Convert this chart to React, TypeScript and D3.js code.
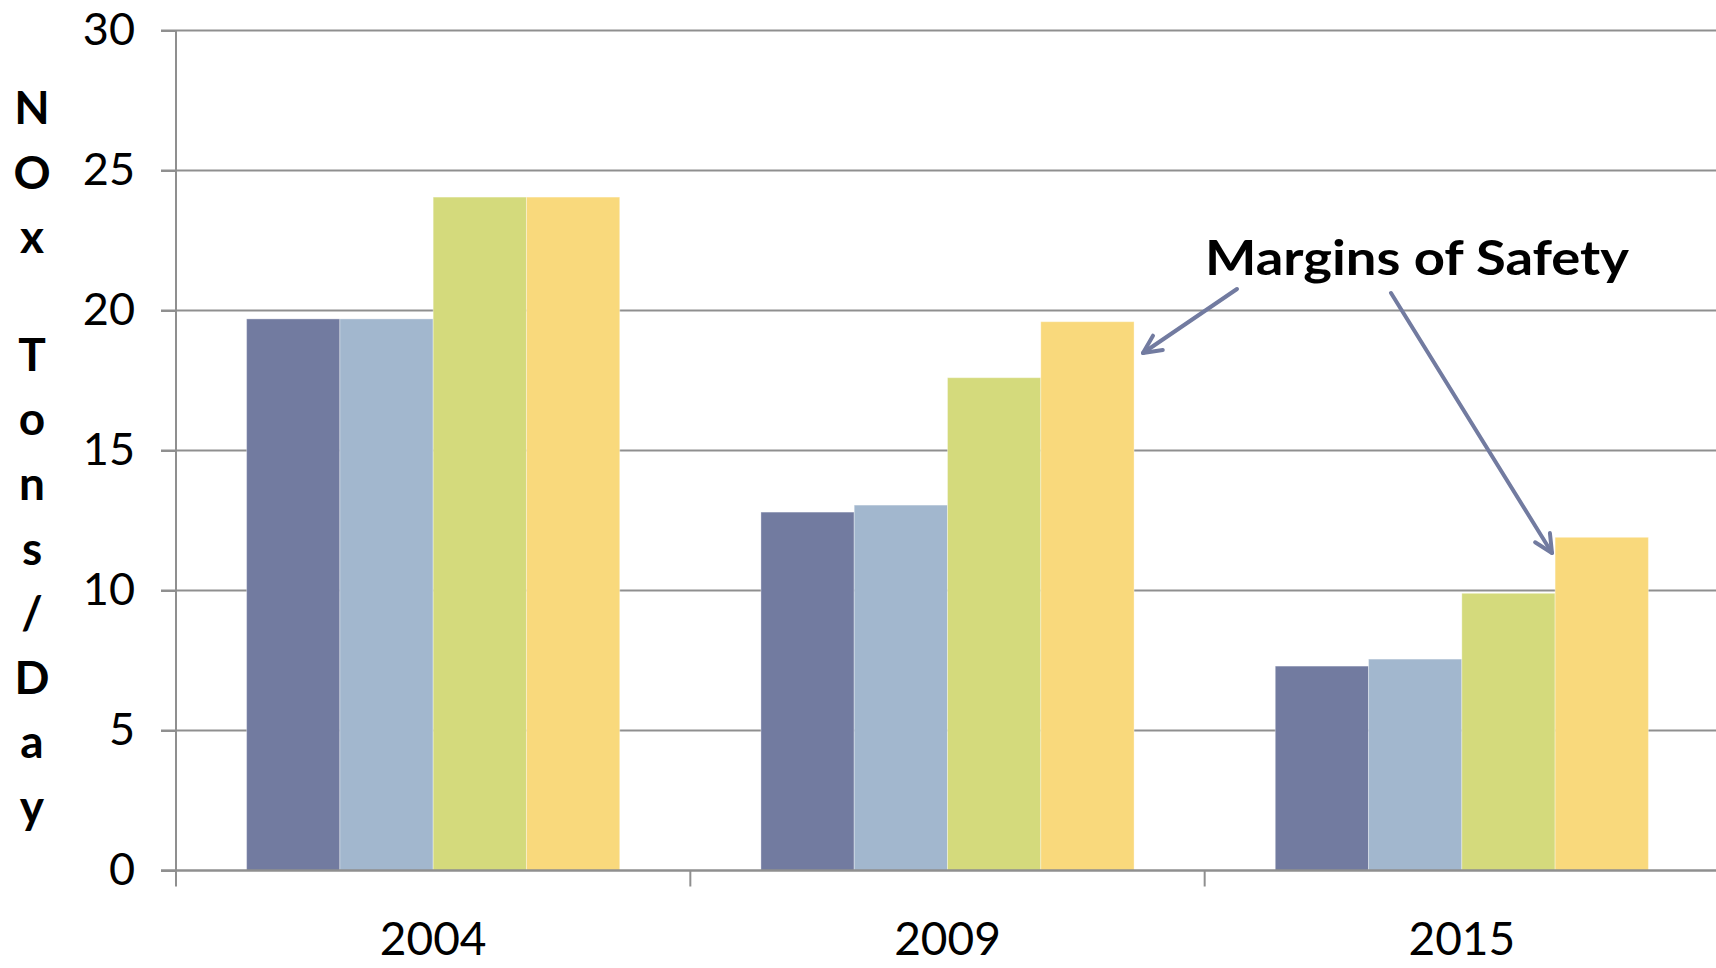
import React, { useEffect, useRef } from 'react'
import * as d3 from 'd3'

const years = ['2004', '2009', '2015']
const seriesA = [19.7, 12.8, 7.3]
const seriesB = [19.7, 13.05, 7.55]
const seriesC = [24.05, 17.6, 9.9]
const seriesD = [24.05, 19.6, 11.9]
const seriesColors = ['#727ba0', '#a2b7ce', '#d4da7c', '#f9d97c']
const yTicks = [0, 5, 10, 15, 20, 25, 30]
const yLabel = ['N', 'O', 'x', ' ', 'T', 'o', 'n', 's', '/', 'D', 'a', 'y']
const note = 'Margins of Safety'

const W = 1716
const H = 968

export default function App() {
    const ref = useRef<SVGSVGElement>(null)

    useEffect(() => {
        const svg = d3.select(ref.current)
        svg.selectAll('*').remove()

        const font = 'Lato, "DejaVu Sans", sans-serif'
        const grey = '#8f8f8f'
        const left = 176
        const bottom = 870.5

        const y = d3.scaleLinear().domain([0, 30]).range([bottom, 30.5])
        const x0 = d3.scaleBand().domain(years).range([left, 1719]).padding(0)
        const groupPad = 70.6
        const series = [seriesA, seriesB, seriesC, seriesD]
        const x1 = d3.scaleBand<number>()
            .domain(d3.range(series.length))
            .range([groupPad, x0.bandwidth() - groupPad])
            .padding(0)

        // grid
        svg.append('g')
            .selectAll('line')
            .data(yTicks.filter(t => t > 0))
            .enter()
            .append('line')
            .attr('x1', left - 15).attr('x2', W)
            .attr('y1', d => y(d)).attr('y2', d => y(d))
            .attr('stroke', grey).attr('stroke-width', 2)

        // bars
        const groups = svg.append('g')
            .selectAll('g')
            .data(years)
            .enter()
            .append('g')
            .attr('transform', d => `translate(${x0(d)},0)`)

        groups.selectAll('rect')
            .data((_, i) => series.map((s, k) => ({ k, v: s[i] })))
            .enter()
            .append('rect')
            .attr('x', d => x1(d.k)!)
            .attr('width', x1.bandwidth())
            .attr('y', d => y(d.v))
            .attr('height', d => bottom - y(d.v))
            .attr('fill', d => seriesColors[d.k])
            .attr('stroke', 'rgba(255,255,255,0.35)')
            .attr('stroke-width', 1)

        // y axis
        const yAxis = svg.append('g')
            .attr('transform', `translate(${left},0)`)
            .call(d3.axisLeft(y).tickValues(yTicks).tickSize(15).tickPadding(26).tickFormat(d3.format('d')))
        yAxis.select('.domain').remove()
        yAxis.selectAll('line').attr('stroke', grey).attr('stroke-width', 2)
        yAxis.selectAll('text')
            .attr('font-family', font).attr('font-size', 45).attr('fill', '#000')
        svg.append('line')
            .attr('x1', left).attr('x2', left)
            .attr('y1', y(30)).attr('y2', bottom + 16)
            .attr('stroke', grey).attr('stroke-width', 2)

        // x axis
        svg.append('line')
            .attr('x1', left - 15).attr('x2', W)
            .attr('y1', bottom).attr('y2', bottom)
            .attr('stroke', grey).attr('stroke-width', 2.5)
        svg.append('g')
            .selectAll('line')
            .data(years.slice(1))
            .enter()
            .append('line')
            .attr('x1', d => x0(d)!).attr('x2', d => x0(d)!)
            .attr('y1', bottom).attr('y2', bottom + 16)
            .attr('stroke', grey).attr('stroke-width', 2)
        svg.append('g')
            .selectAll('text')
            .data(years)
            .enter()
            .append('text')
            .attr('x', d => x0(d)! + x0.bandwidth() / 2)
            .attr('y', 955)
            .attr('text-anchor', 'middle')
            .attr('font-family', font).attr('font-size', 46)
            .text(d => d)

        // stacked y label
        let ly = 124
        yLabel.forEach(ch => {
            if (ch === ' ') { ly += 53; return }
            svg.append('text')
                .attr('x', 32).attr('y', ly)
                .attr('text-anchor', 'middle')
                .attr('font-family', font).attr('font-weight', 'bold').attr('font-size', 46)
                .text(ch)
            ly += 64.6
        })

        // annotation
        svg.append('text')
            .attr('x', 1205).attr('y', 275)
            .attr('font-family', font).attr('font-weight', 'bold').attr('font-size', 48)
            .attr('textLength', 424).attr('lengthAdjust', 'spacingAndGlyphs')
            .text(note)

        const arrowCol = '#727ba0'
        const arrow = (x1: number, y1: number, x2: number, y2: number) => {
            svg.append('line')
                .attr('x1', x1).attr('y1', y1).attr('x2', x2).attr('y2', y2)
                .attr('stroke', arrowCol).attr('stroke-width', 4).attr('stroke-linecap', 'round')
            const a = Math.atan2(y2 - y1, x2 - x1)
            const len = 20
            const spread = 0.45
            const p = [a + Math.PI - spread, a + Math.PI + spread].map(t => [x2 + len * Math.cos(t), y2 + len * Math.sin(t)])
            svg.append('path')
                .attr('d', `M${p[0][0]},${p[0][1]}L${x2},${y2}L${p[1][0]},${p[1][1]}`)
                .attr('fill', 'none').attr('stroke', arrowCol).attr('stroke-width', 4)
                .attr('stroke-linecap', 'round').attr('stroke-linejoin', 'round')
        }
        arrow(1237, 289, 1143, 353)
        arrow(1391, 293, 1552, 553)
    }, [])

    return (
        <svg ref={ref} width={W} height={H}
            style={{ position: 'absolute', left: 0, top: 0, background: '#fff' }} />
    )
}
